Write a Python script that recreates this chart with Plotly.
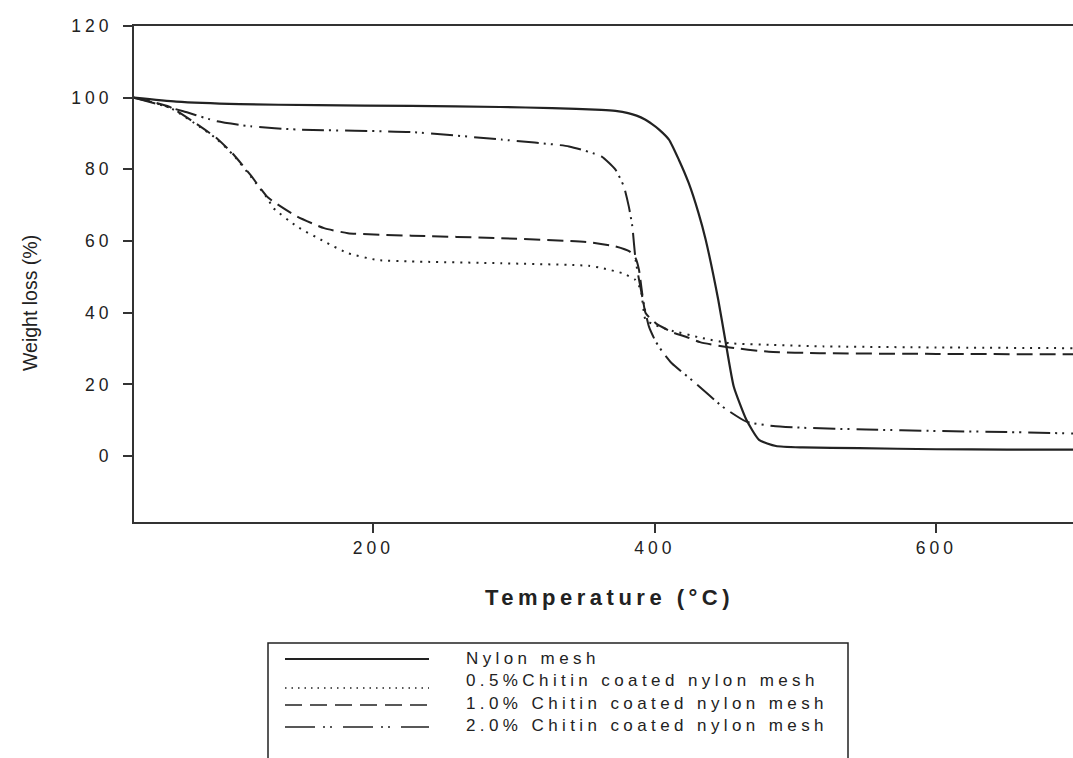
import plotly.graph_objects as go

# Thermogravimetric curves: temperature (°C) and remaining weight (%)
temp_nylon = [30, 60, 105, 160, 227, 290, 327, 362, 372, 381, 387, 393, 398, 403, 410, 417,
              424, 431, 436, 445, 450, 456, 465, 474, 486, 505, 545, 600, 650, 697]
wt_nylon = [100, 98.9, 98.2, 97.9, 97.7, 97.4, 97.1, 96.6, 96.3, 95.7, 95.0, 93.9, 92.6, 91.1,
            88.3, 82.7, 76.2, 67.8, 60.5, 43.6, 32.4, 19.4, 10.1, 4.5, 2.8, 2.4, 2.2, 1.9,
            1.8, 1.8]

temp_c05 = [30, 55, 77, 89, 101, 113, 125, 129, 146, 165, 182, 203, 227, 291, 353, 363, 377,
            386, 390, 393.4, 400, 410, 434, 453, 484, 520, 600, 697]
wt_c05 = [100, 97.3, 91.8, 88.4, 83.8, 78.0, 71.8, 69.2, 64.0, 59.9, 56.6, 54.7, 54.3, 53.8,
          53.1, 52.4, 51.0, 49.2, 46.4, 38.0, 36.6, 35.2, 32.9, 31.5, 31.0, 30.6, 30.3, 30.1]

temp_c10 = [30, 55, 77, 89, 101, 113, 125, 146, 165, 182, 227, 291, 353, 372, 382, 386.3,
            388.7, 391, 393.4, 400.5, 412, 422, 432, 451, 481, 517, 600, 697]
wt_c10 = [100, 97.5, 92.0, 88.6, 84.0, 78.3, 72.2, 66.8, 63.6, 62.2, 61.5, 60.8, 59.7, 58.5,
          57.1, 55.2, 52.0, 45.4, 39.9, 37.1, 34.6, 33.3, 31.8, 30.4, 29.1, 28.7, 28.5, 28.4]

temp_c20 = [30, 65, 89, 113, 146, 227, 291, 339, 362, 372, 378, 381.5, 384, 386.3, 391, 395.8,
            400.5, 405, 412, 429, 448, 465, 484, 505, 550, 600, 650, 697]
wt_c20 = [100, 96.2, 93.4, 92.0, 91.1, 90.4, 88.3, 86.4, 83.6, 79.9, 75.2, 69.6, 64.0, 54.7,
          44.5, 36.1, 32.0, 29.3, 25.9, 20.3, 13.8, 9.6, 8.4, 7.9, 7.4, 7.0, 6.7, 6.3]

series_names = ["Nylon mesh",
                "0.5%Chitin coated nylon mesh",
                "1.0% Chitin coated nylon mesh",
                "2.0% Chitin coated nylon mesh"]

x_ticks = [200, 400, 600]
y_ticks = [0, 20, 40, 60, 80, 100, 120]

INK = "#222222"
FONT = "Liberation Sans, Arial, sans-serif"
W, H = 1073, 758
M_L, M_R, M_T, M_B = 134, 0, 26, 236
PLOT_W = W - M_L - M_R
PLOT_H = H - M_T - M_B

styles = [
    dict(dash="solid", width=2.2),
    dict(dash="2px,6px", width=2),
    dict(dash="16px,7px", width=2),
    dict(dash="22px,5px,2px,5px,2px,7px", width=2),
]
legend_dash = ["solid", "1.5px,5px", "17px,8px", "30px,8px,2px,5px,2px,11px"]

fig = go.Figure()
for (tx, wy), name, st in zip(
        [(temp_nylon, wt_nylon), (temp_c05, wt_c05), (temp_c10, wt_c10), (temp_c20, wt_c20)],
        series_names, styles):
    fig.add_trace(go.Scatter(x=tx, y=wy, mode="lines", name=name, showlegend=False,
                             line=dict(color=INK, width=st["width"], dash=st["dash"],
                                       shape="spline", smoothing=0.5)))


def px_x(px):
    return (px - M_L) / PLOT_W


def px_y(py):
    return (H - M_B - py) / PLOT_H


annotations = [
    # 0: y-axis title
    dict(text="Weight loss (%)", x=px_x(30), y=px_y(303), xref="paper", yref="paper",
         xanchor="center", yanchor="middle", textangle=-90, showarrow=False,
         font=dict(family=FONT, size=19.5, color=INK)),
    # 1: x-axis title
    dict(text="Temperature (°C)", x=px_x(609), y=px_y(597), xref="paper", yref="paper",
         xanchor="center", yanchor="middle", showarrow=False,
         font=dict(family=FONT, size=22, color=INK, weight="bold")),
]

shapes = [
    dict(type="rect", xref="paper", yref="paper", x0=px_x(268), x1=px_x(848),
         y0=px_y(775), y1=px_y(643), line=dict(color=INK, width=1.5), fillcolor="white"),
]

row_text_y = [658, 680.5, 703, 725.5]
row_line_y = [659, 688, 705, 727]
for name, ty, ly, dsh in zip(series_names, row_text_y, row_line_y, legend_dash):
    shapes.append(dict(type="line", xref="paper", yref="paper", x0=px_x(285), x1=px_x(429),
                       y0=px_y(ly), y1=px_y(ly),
                       line=dict(color=INK, width=1.6 if dsh != "solid" else 1.8, dash=dsh)))
    annotations.append(dict(text=name, x=px_x(464), y=px_y(ty), xref="paper", yref="paper",
                            xanchor="left", yanchor="middle", align="left", showarrow=False,
                            font=dict(family=FONT, size=17, color=INK)))

axis_common = dict(
    showgrid=False, zeroline=False, showline=True, linecolor="#333333", linewidth=2,
    ticks="outside", ticklen=9, tickwidth=2, tickcolor="#333333",
    tickfont=dict(family=FONT, size=17.5, color=INK),
)

fig.update_layout(
    width=W, height=H, autosize=False,
    margin=dict(l=M_L, r=M_R, t=M_T, b=M_B, pad=0),
    paper_bgcolor="white", plot_bgcolor="white",
    xaxis=dict(range=[30, 697], tickvals=x_ticks, mirror=True, **axis_common),
    yaxis=dict(range=[-18.4, 120], tickvals=y_ticks, ticklabelstandoff=7, **axis_common),
    annotations=annotations, shapes=shapes,
)

# Widen the horizontally set labels with extra letter spacing
post_js = """
var gd = document.getElementById('{plot_id}');
function spaceOut(sel, v) {
  gd.querySelectorAll(sel).forEach(function (t) { t.style.letterSpacing = v; });
}
spaceOut('.xtick text', '4px');
spaceOut('.ytick text', '4px');
spaceOut('.annotation[data-index="1"] text', '4.5px');
[2, 3, 4, 5].forEach(function (i) {
  spaceOut('.annotation[data-index="' + i + '"] text', '4.4px');
});
"""

fig.write_html("out.html", post_script=post_js)
